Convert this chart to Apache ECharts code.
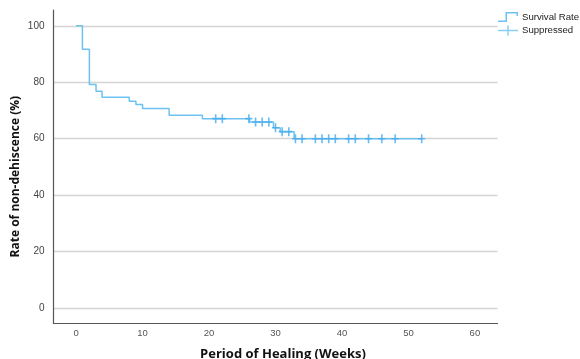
<!DOCTYPE html>
<html>
<head>
<meta charset="utf-8">
<script src="https://cdn.jsdelivr.net/npm/echarts@6/dist/echarts.min.js"></script>
<style>html,body{margin:0;padding:0;background:#fff}#c{width:580px;height:359px}</style>
</head>
<body>
<div id="c"></div>
<script>
// Kaplan-Meier step curve (time in weeks, rate in %)
const survivalTimes = [0, 0.95, 2, 3, 3.9, 8, 9, 10, 14, 19, 26.1, 29.7, 30.7, 32.8, 52];
const survivalRates = [100, 91.7, 79.2, 76.8, 74.7, 73.3, 72.1, 70.7, 68.3, 67.1, 65.9, 63.9, 62.5, 60.0, 60.0];
// Censored observations
const censorTimes = [21, 22, 26, 27, 28, 29, 30, 31, 32, 33, 34, 36, 37, 38, 39, 41, 42, 44, 46, 48, 52];
const censorRates = [67.1, 67.1, 67.1, 65.9, 65.9, 65.9, 63.9, 62.5, 62.5, 60, 60, 60, 60, 60, 60, 60, 60, 60, 60, 60, 60];
const xTicks = [0, 10, 20, 30, 40, 50, 60];
const yTicks = [0, 20, 40, 60, 80, 100];
const seriesNames = ['Survival Rate', 'Suppressed'];
const xTitle = 'Period of Healing (Weeks)';
const yTitle = 'Rate of non-dehiscence (%)';

const lineColor = '#6cc2f0';
const markColor = '#45aaee';
const stepIcon = 'path://M0,8.5H9V10H0Z M7.5,0H9V10H7.5Z M7.5,0H20V1.5H7.5Z M18.5,0H20V4H18.5Z';
const plusIcon = 'path://M0,4.25H20V5.75H0Z M9.25,0H10.75V10H9.25Z';
const plusSymbol = 'path://M0,3.7H7V5.3H0Z M2.7,0H4.3V9H2.7Z';

const chart = echarts.init(document.getElementById('c'), null, {renderer: 'canvas'});
chart.setOption({
  animation: false,
  backgroundColor: '#fff',
  grid: {left: 53.5, right: 82.5, top: 10, bottom: 35.7, containLabel: false, outerBoundsMode: 'none'},
  legend: {
    orient: 'vertical', left: 498, top: 12, padding: 0, itemWidth: 20, itemHeight: 10, itemGap: 3.5,
    textStyle: {fontFamily: 'Liberation Sans', fontSize: 9.6, color: '#222', padding: [0,0,0,-1]},
    data: [
      {name: seriesNames[0], icon: stepIcon, itemStyle: {color: lineColor}},
      {name: seriesNames[1], icon: plusIcon, itemStyle: {color: lineColor}}
    ]
  },
  xAxis: {
    type: 'value', min: -3.4, max: 63.4,
    name: xTitle, nameLocation: 'middle', nameGap: 24, nameMoveOverlap: false,
    nameTextStyle: {fontFamily: 'Open Sans', fontWeight: 'bold', fontSize: 13, color: '#111', padding: [0,0,0,15]},
    axisLine: {show: true, onZero: false, lineStyle: {color: '#555', width: 1.2}},
    axisTick: {show: false, customValues: xTicks},
    axisLabel: {customValues: xTicks, fontFamily: 'Liberation Sans', fontSize: 9.5, color: '#555', margin: 5},
    splitLine: {show: false}
  },
  yAxis: {
    type: 'value', min: -5.4, max: 105.6,
    name: yTitle, nameLocation: 'middle', nameGap: 32, nameMoveOverlap: false,
    nameTextStyle: {fontFamily: 'Open Sans', fontWeight: 'bold', fontSize: 12, color: '#111', padding: [0,20,0,0]},
    axisLine: {show: true, onZero: false, lineStyle: {color: '#555', width: 1.2}},
    axisTick: {show: false, customValues: yTicks},
    axisLabel: {customValues: yTicks, fontFamily: 'Liberation Sans', fontSize: 10, color: '#444', margin: 9},
    splitLine: {show: true, lineStyle: {color: '#d4d4d4', width: 1.3}}
  },
  series: [
    {
      name: seriesNames[0], type: 'line', step: 'end', showSymbol: false, symbol: 'none',
      data: survivalTimes.map((t, i) => [t, survivalRates[i]]),
      lineStyle: {color: lineColor, width: 1.5}, itemStyle: {color: lineColor}, z: 2
    },
    {
      name: seriesNames[1], type: 'scatter', symbol: plusSymbol, symbolSize: [7, 9],
      data: censorTimes.map((t, i) => [t, censorRates[i]]),
      itemStyle: {color: markColor}, z: 3
    }
  ]
});
</script>
</body>
</html>
